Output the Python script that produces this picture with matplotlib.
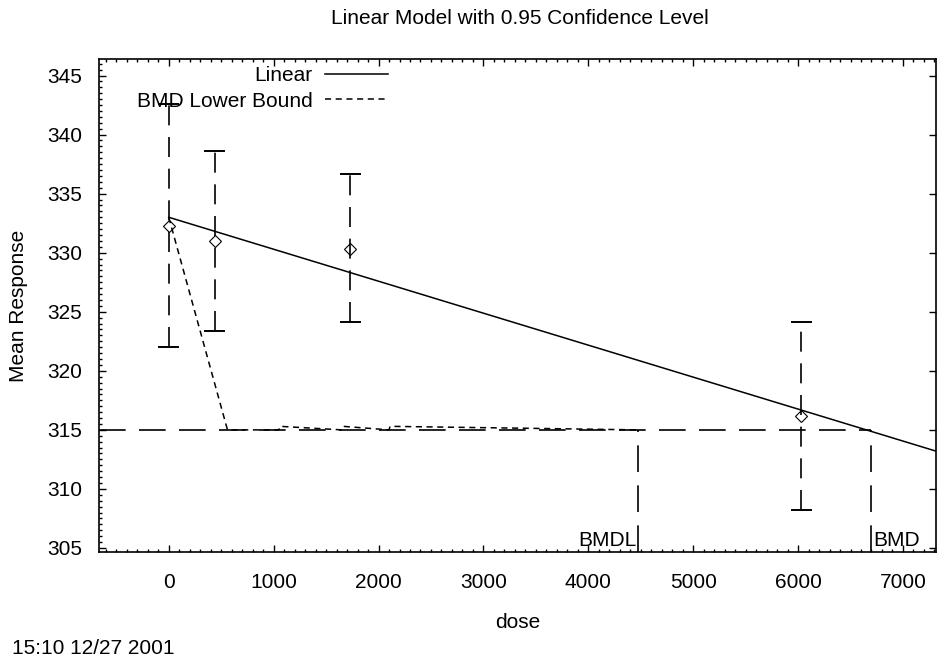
import matplotlib
matplotlib.use("Agg")
import matplotlib.pyplot as plt
from matplotlib.ticker import MultipleLocator
import numpy as np

plt.rcParams['font.family'] = ['Liberation Sans Narrow', 'Liberation Sans', 'DejaVu Sans']

# data
dose = [0, 440, 1730, 6030]
mean = [332.3, 331.0, 330.3, 316.2]
lower = [322.0, 323.4, 324.1, 308.2]
upper = [342.6, 338.6, 336.7, 324.1]

fit_dose = [0, 7315]
fit_resp = [333.0, 313.2]

lb_dose = [0, 560, 1050, 1060, 1650, 1660, 2100, 2110, 4478]
lb_resp = [333.0, 315.0, 315.0, 315.3, 315.0, 315.3, 315.0, 315.3, 315.0]

bmr = 315.0
bmd = 6700
bmdl = 4478
xlim = (-665, 7315)
ylim = (304.66, 346.4)

fs = 15

fig = plt.figure(figsize=(9.39, 6.66), dpi=100)
ax = fig.add_axes([99 / 939, 1 - 552 / 666, (936 - 99) / 939, (552 - 59) / 666])

ax.plot(fit_dose, fit_resp, color='black', lw=1.1, label='Linear')
ax.plot(lb_dose, lb_resp, color='black', lw=1.1, dashes=(4, 3), label='BMD Lower Bound')

# error bars: dashed verticals, solid caps
long_dash = (12, 7)
for d, lo, hi in zip(dose, lower, upper):
    ax.plot([d, d], [lo, hi], color='black', lw=1.2, dashes=long_dash)
    ax.plot([d - 90, d + 90], [lo, lo], color='black', lw=1.4)
    ax.plot([d - 90, d + 90], [hi, hi], color='black', lw=1.4)
ax.plot(dose, mean, ls='none', marker='D', ms=6, mfc='none', mec='black', mew=0.8)

# BMR / BMD / BMDL markers
ax.plot([xlim[0], bmd], [bmr, bmr], color='black', lw=1.2, dashes=(16, 8))
ax.plot([bmd, bmd], [ylim[0], bmr], color='black', lw=1.2, dashes=(16, 8))
ax.plot([bmdl, bmdl], [ylim[0], bmr], color='black', lw=1.2, dashes=(16, 8))
ax.text(bmdl - 20, ylim[0] + 0.15, 'BMDL', ha='right', va='bottom', fontsize=fs)
ax.text(bmd + 20, ylim[0] + 0.15, 'BMD', ha='left', va='bottom', fontsize=fs)

ax.set_xlim(*xlim)
ax.set_ylim(*ylim)
ax.xaxis.set_major_locator(MultipleLocator(1000))
ax.xaxis.set_minor_locator(MultipleLocator(100))
ax.yaxis.set_major_locator(MultipleLocator(5))
ax.yaxis.set_minor_locator(MultipleLocator(0.5))
ax.tick_params(which='both', direction='in', top=True, right=True, labelsize=fs, width=1.0)
ax.tick_params(which='major', length=5, pad=12)
ax.tick_params(axis='x', which='major', pad=15)
ax.tick_params(which='minor', length=2.5)
ax.tick_params(axis='y', which='minor', right=False)
for s in ax.spines.values():
    s.set_linewidth(1.2)

ax.set_xlabel('dose', fontsize=fs, labelpad=15)
ax.set_ylabel('Mean Response', fontsize=fs, labelpad=14)
fig.text(520 / 939, 1 - 18 / 666, 'Linear Model with 0.95 Confidence Level', ha='center', va='center', fontsize=fs)
fig.text(12 / 939, 1 - 648 / 666, '15:10 12/27 2001', ha='left', va='center', fontsize=fs)

ax.legend(loc='upper right', bbox_to_anchor=(0.345, 0.985), frameon=False, fontsize=fs,
          markerfirst=False, handlelength=3.0, handletextpad=0.6, labelspacing=0.3,
          borderaxespad=0.0, borderpad=0.0)

fig.savefig('out.png', dpi=100)
